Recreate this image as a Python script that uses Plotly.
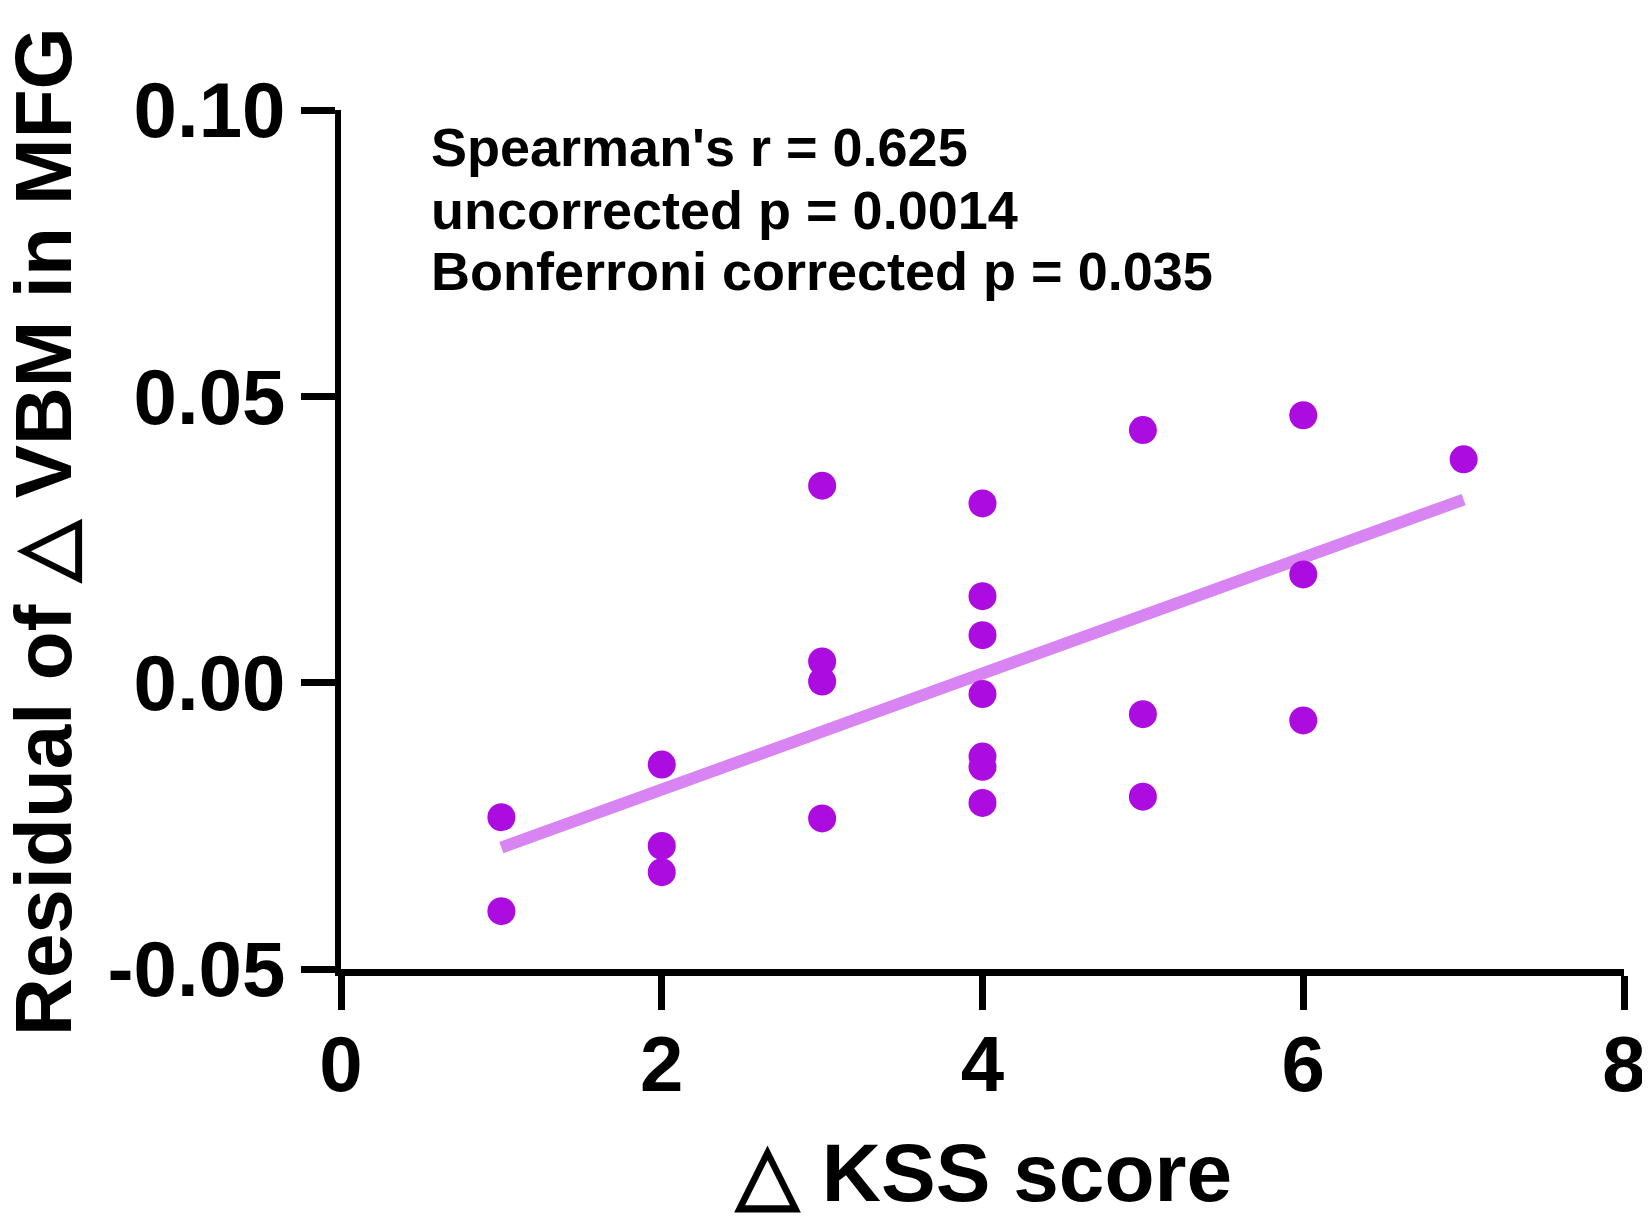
import numpy as np
import plotly.graph_objects as go

# delta KSS score (x) and residual of delta VBM in MFG (y)
kss = [1, 1, 2, 2, 2, 3, 3, 3, 3, 4, 4, 4, 4, 4, 4, 4, 5, 5, 5, 6, 6, 6, 7]
vbm = [-0.0235, -0.0399, -0.0143, -0.0285, -0.0331,
       0.0344, 0.0037, 0.0002, -0.0237,
       0.0313, 0.0151, 0.0083, -0.0020, -0.0129, -0.0147, -0.0210,
       0.0441, -0.0055, -0.0199,
       0.0467, 0.0189, -0.0066,
       0.0390]

x_ticks = [0, 2, 4, 6, 8]
y_ticks = [-0.05, 0.00, 0.05, 0.10]
y_ticktext = ["-0.05", "0.00", "0.05", "0.10"]

stats_lines = ["Spearman's r = 0.625",
               "uncorrected p = 0.0014",
               "Bonferroni corrected p = 0.035"]

# simple linear fit for the trend line
slope, icept = np.polyfit(kss, vbm, 1)
fit_x = np.array([min(kss), max(kss)])
fit_y = slope * fit_x + icept

FONT = "Liberation Sans, Arial, Helvetica, sans-serif"

fig = go.Figure()
fig.add_trace(go.Scatter(x=fit_x, y=fit_y, mode="lines",
                         line=dict(color="#d884f2", width=12),
                         hoverinfo="skip", showlegend=False))
fig.add_trace(go.Scatter(x=kss, y=vbm, mode="markers",
                         marker=dict(color="#ad0ce0", size=28),
                         showlegend=False))

fig.update_xaxes(range=[0, 8], tickvals=x_ticks, showline=True, linecolor="black",
                 linewidth=7, ticks="outside", ticklen=34, tickwidth=7,
                 tickcolor="black", showgrid=False, zeroline=False,
                 ticklabelstandoff=-13,
                 tickfont=dict(family=FONT, size=78, color="black", weight="bold"))
fig.update_yaxes(range=[-0.05, 0.10], tickvals=y_ticks, ticktext=y_ticktext,
                 showline=True, linecolor="black", linewidth=6, ticks="outside",
                 ticklen=34, tickwidth=7, tickcolor="black", showgrid=False,
                 zeroline=False, ticklabelstandoff=0,
                 tickfont=dict(family=FONT, size=78, color="black", weight="bold"))

annos = [
    dict(text="△ KSS score", x=0.5, y=-0.2371, xanchor="center", yanchor="middle",
         font=dict(family=FONT, size=82, color="black", weight="bold")),
    dict(text="Residual of △ VBM in MFG", x=-0.2315, y=0.51, textangle=-90,
         xanchor="center", yanchor="middle",
         font=dict(family=FONT, size=80, color="black", weight="bold")),
]
for txt, yy in zip(stats_lines, [0.9574, 0.884, 0.8127]):
    annos.append(dict(text=txt, x=0.0687, y=yy, xanchor="left", yanchor="middle",
                      font=dict(family=FONT, size=54, color="black", weight="bold")))
for a in annos:
    a.update(xref="paper", yref="paper", showarrow=False)

fig.update_layout(width=1650, height=1216, plot_bgcolor="white", paper_bgcolor="white",
                  margin=dict(l=333, r=24, t=102, b=255), annotations=annos)

fig.write_html("out.html")
